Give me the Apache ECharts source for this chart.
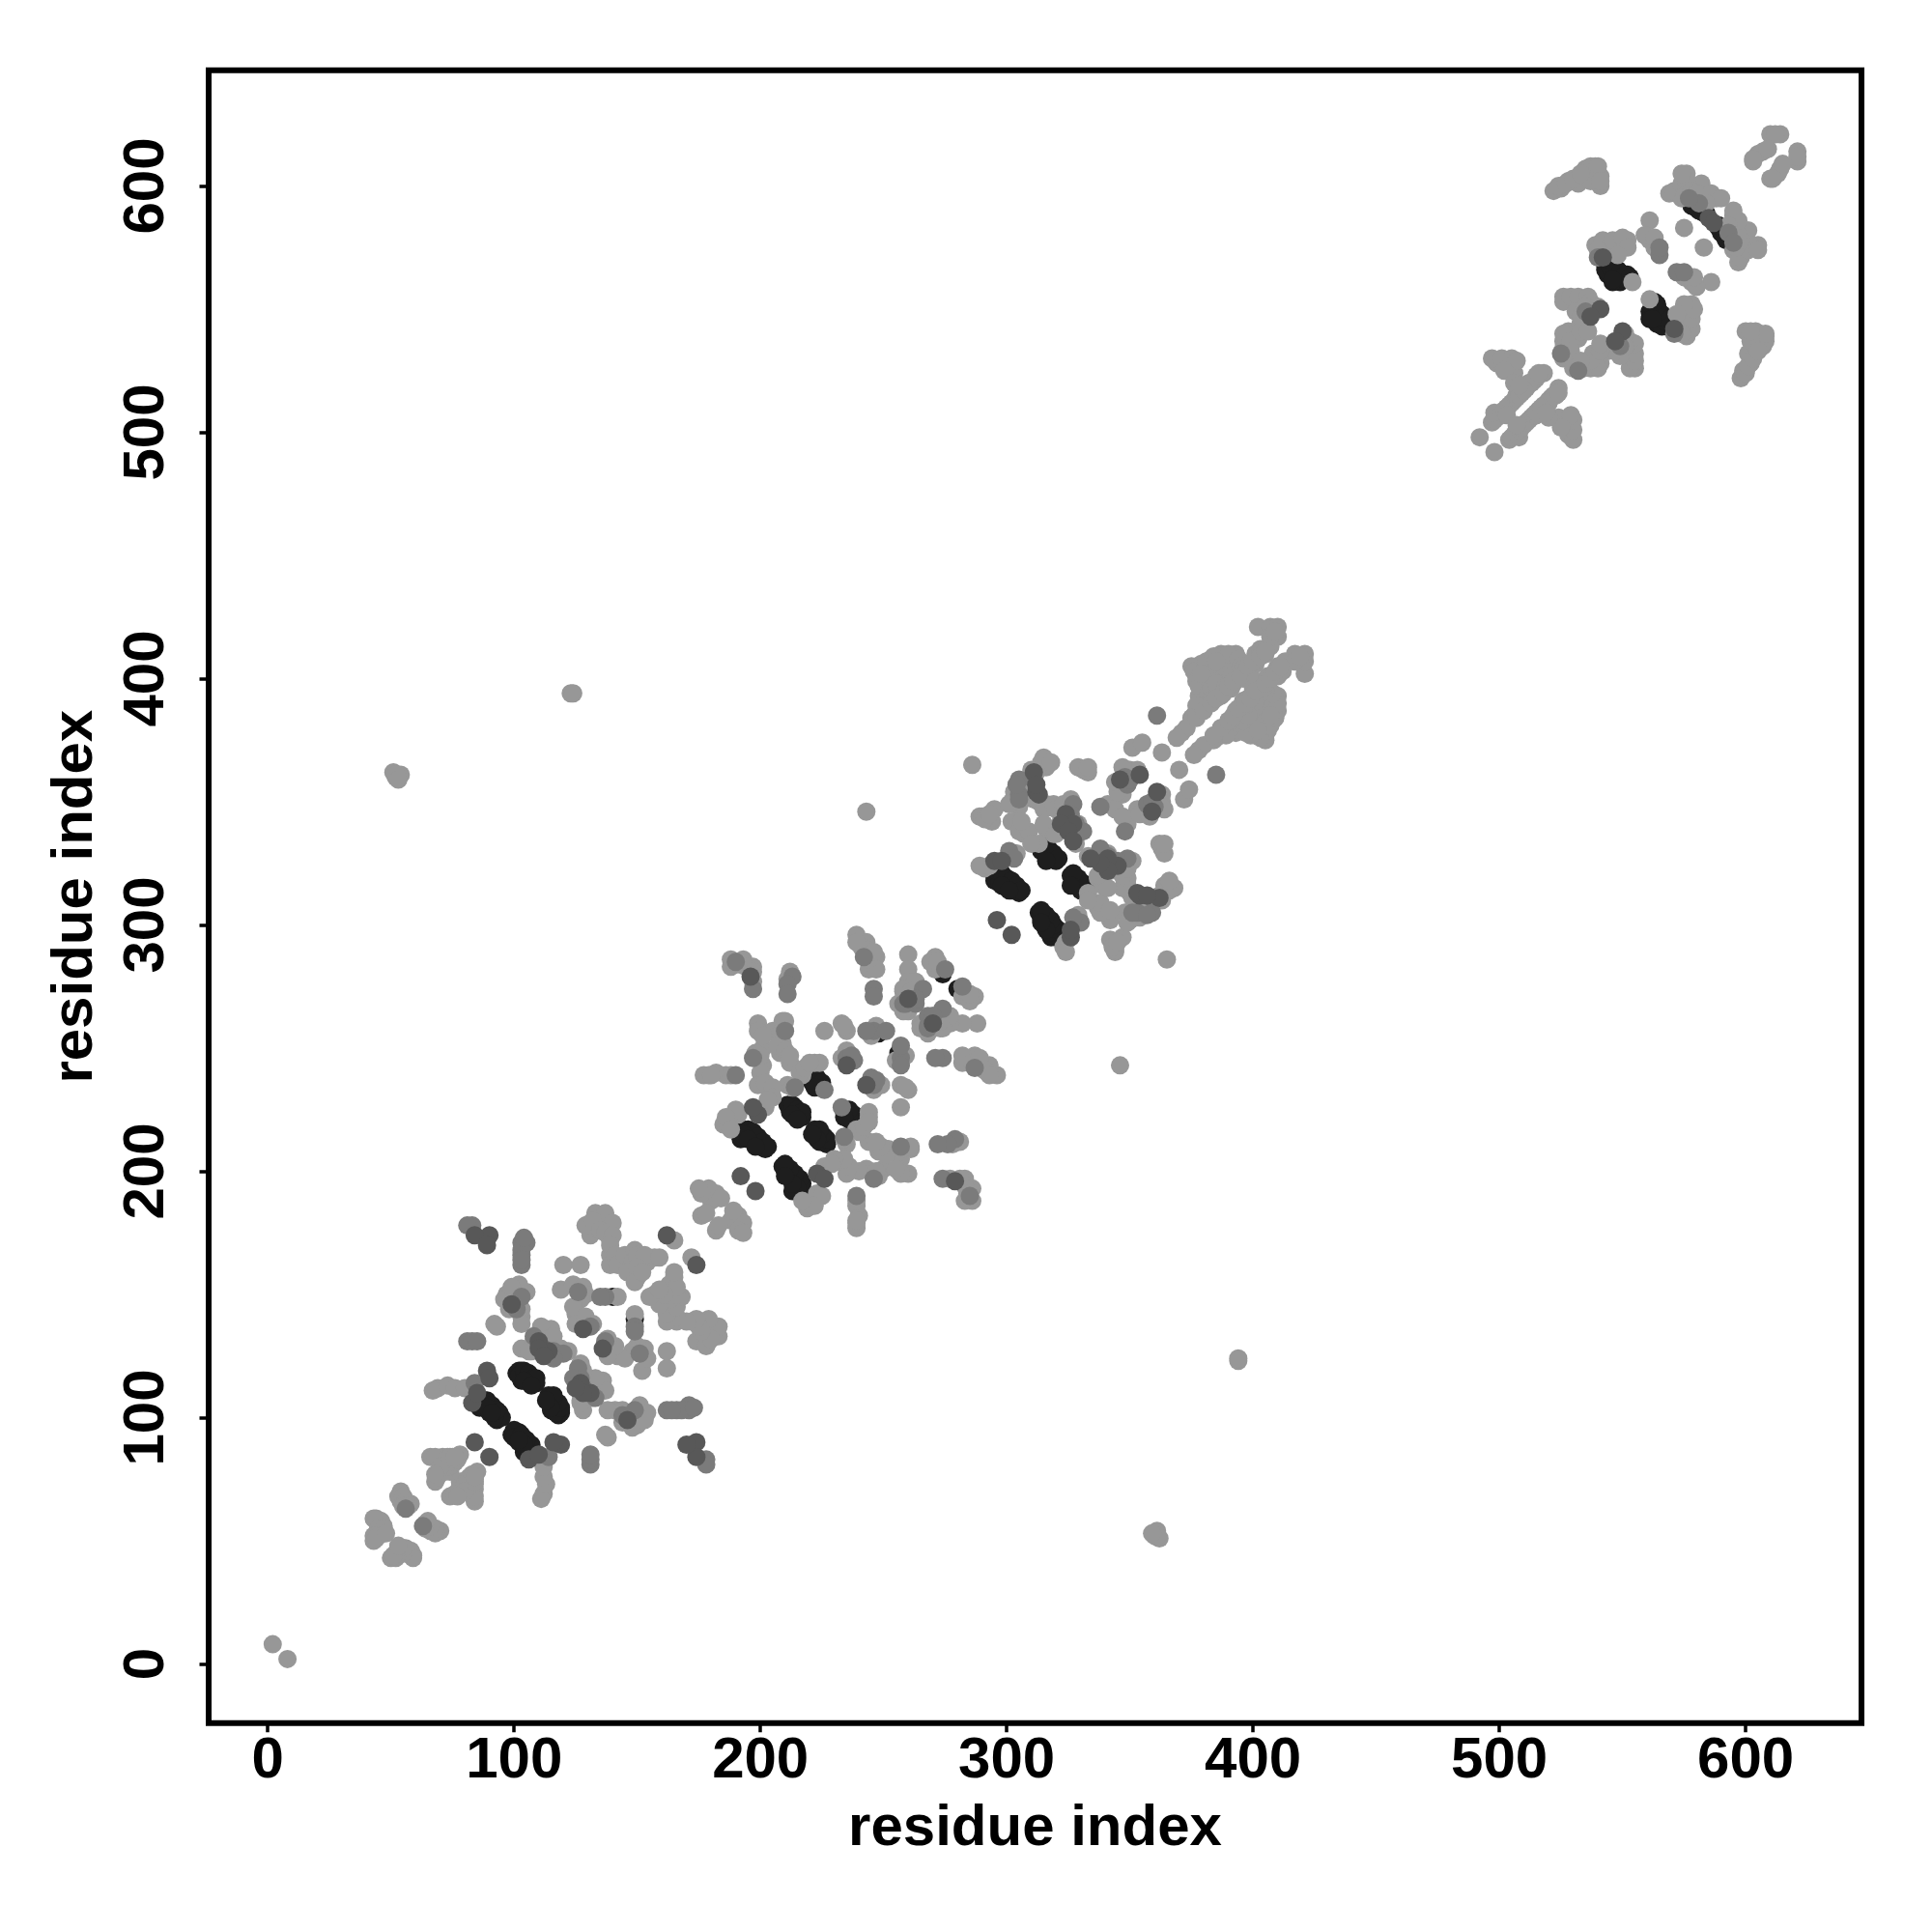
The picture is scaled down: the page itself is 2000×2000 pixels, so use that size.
<!DOCTYPE html>
<html><head><meta charset="utf-8">
<script src="https://cdn.jsdelivr.net/npm/echarts@6/dist/echarts.min.js"></script>
<style>html,body{margin:0;background:#fff}#c{width:2000px;height:2000px}</style></head>
<body><div id="c"></div>
<script>
const tickValues=[0,100,200,300,400,500,600];
const axisTitle='residue index';
// contact pairs (i<j), grouped by grey level; a contact appears at (i,j) and (j,i)
const darkestPairs=[[88,106],[90,104],[92,102],[94,102],[93,99],[86,104],[103,119],[101,118],[106,117],[108,115],[103,115],[193,217],[196,214],[199,212],[201,210],[192,213],[213,226],[211,227],[216,223],[220,238],[222,236],[224,234],[248,256],[274,280],[140,149],[295,320],[299,318],[302,316],[305,313],[295,318],[316,330],[320,327],[316,328],[544,564],[548,564],[552,564],[549,561],[546,561],[580,591],[583,589],
[87,107],[88,107],[89,106],[90,105],[91,104],[92,103],[93,102],[94,101],[95,100],[88,104],[90,102],[92,100],[102,119],[103,118],[104,117],[105,116],[106,116],[107,115],[109,114],[102,117],[105,118],[194,216],[195,215],[197,213],[198,212],[200,210],[202,209],[194,214],[197,215],[200,212],[193,214],[212,226],[213,225],[214,224],[215,223],[217,222],[212,224],[214,226],[219,240],[220,239],[221,238],[222,237],[223,236],[224,235],[225,234],[221,236],[296,320],[297,319],[298,319],[299,317],[300,317],[301,316],[303,315],[304,314],[297,317],[300,315],[296,322],[302,314],[314,332],[315,331],[317,329],[318,328],[319,327],[320,326],[314,330],[543,568],[544,566],[545,565],[547,563],[550,563],[551,562],[552,562],[548,566],[543,566],[578,592],[581,590],[582,591],[584,589],
[89,107],[91,105],[93,103],[89,104],[91,102],[104,119],[106,118],[108,116],[109,116],[104,115],[107,113],[195,217],[197,216],[199,214],[201,212],[203,210],[193,215],[195,213],[198,210],[213,227],[215,225],[217,224],[213,223],[215,221],[221,239],[223,238],[225,236],[222,234],[296,323],[298,321],[300,319],[302,318],[304,316],[306,314],[298,316],[301,314],[315,333],[317,331],[319,329],[321,327],[316,326],[545,567],[547,566],[549,565],[551,564],[553,563],[546,562]];
const lightPairs=[[2,8],[44,59],[45,57],[47,56],[43,50],[44,53],[46,54],[54,70],[54,66],[58,65],[66,84],[71,84],[78,85],[68,74],[72,81],[74,78],[70,78],[92,138],[93,137],[69,112],[67,111],[73,113],[76,112],[80,112],[103,128],[107,127],[111,134],[115,136],[112,129],[103,141],[102,151],[97,150],[120,162],[127,162],[119,152],[128,150],[125,142],[128,138],[126,140],[142,149],[139,172],[133,183],[131,179],[139,179],[131,174],[136,178],[139,166],[139,162],[142,165],[149,166],[149,161],[150,157],[157,165],[154,163],[165,172],[176,182],[182,191],[178,192],[180,188],[51,362],[52,360],[53,360],[54,361],[52,361],[53,359],[123,394],[124,394],[243,346],[185,219],[191,223],[202,226],[222,244],[217,239],[211,235],[200,236],[204,232],[201,243],[201,250],[199,260],[209,258],[209,252],[212,244],[208,248],[179,239],[182,240],[186,239],[193,286],[197,283],[239,296],[243,293],[247,287],[244,282],[247,282],[226,257],[233,260],[235,257],[245,255],[235,248],[260,288],[260,282],[260,277],[263,277],[258,273],[271,287],[271,282],[286,365],[289,344],[292,344],[295,347],[294,342],[314,366],[316,364],[305,348],[302,350],[313,350],[316,349],[305,340],[307,337],[316,339],[319,337],[303,329],[291,323],[341,349],[347,353],[350,363],[331,363],[333,362],[351,372],[355,374],[363,370],[371,378],[378,387],[376,385],[380,389],[378,393],[379,400],[377,401],[379,406],[383,408],[387,410],[393,410],[397,406],[399,401],[388,402],[387,396],[391,396],[401,406],[405,410],[402,421],[407,421],[410,421],[410,417],[407,413],[383,405],[388,408],[375,405],[380,396],[393,402],[391,408],[396,400],[387,401],[492,498],[499,506],[503,510],[506,513],[509,516],[514,521],[518,524],[502,527],[505,528],[499,528],[506,524],[526,555],[528,554],[533,554],[532,551],[526,537],[528,541],[533,544],[532,538],[522,598],[525,599],[528,602],[532,601],[535,607],[539,608],[541,600],[541,604],[540,576],[552,578],[546,575],[554,561],[561,586],[561,578],[569,597],[574,595],[576,605],[575,600],[579,600],[582,601],[583,595],[588,595],[575,583],[603,610],[607,614],[610,621],[614,621],
[44,58],[46,58],[43,59],[45,55],[47,55],[45,52],[43,52],[44,51],[48,53],[53,68],[55,68],[56,66],[55,64],[57,64],[68,84],[73,84],[75,84],[69,76],[72,78],[73,80],[75,81],[76,82],[77,83],[70,80],[68,77],[74,84],[76,84],[106,127],[108,132],[111,137],[114,132],[116,133],[119,128],[122,127],[98,144],[99,149],[102,148],[103,144],[105,151],[96,148],[102,154],[99,153],[103,138],[124,154],[128,153],[129,150],[127,148],[124,145],[125,138],[129,141],[132,138],[137,183],[140,179],[129,178],[132,180],[135,176],[137,175],[140,174],[139,170],[141,166],[142,162],[145,166],[149,168],[148,163],[146,159],[150,166],[153,166],[150,161],[159,165],[149,155],[152,159],[179,193],[176,191],[175,193],[184,189],[178,183],
[188,286],[188,283],[191,284],[194,283],[197,281],[197,277],[211,278],[212,281],[205,257],[207,255],[209,261],[210,261],[207,251],[210,249],[212,247],[199,257],[201,255],[198,248],[200,247],[200,240],[199,235],[202,236],[205,234],[205,230],[203,229],[213,234],[216,240],[218,242],[224,244],[220,244],[177,239],[180,239],[188,239],[241,291],[243,290],[244,286],[239,293],[246,289],[258,274],[261,273],[263,270],[256,268],[260,265],[258,265],[269,285],[272,285],[234,259],[235,249],[233,246],[244,257],[247,259],[190,225],[187,219],[186,222],[188,217],
[376,403],[377,399],[378,397],[380,403],[381,407],[382,400],[384,409],[385,403],[386,399],[389,404],[390,410],[391,401],[392,398],[394,408],[395,405],[396,404],[385,407],[379,402],[380,391],[382,394],[383,396],[385,398],[389,397],[387,393],[383,391],[379,388],[377,389],[375,384],[373,380],[369,376],[401,410],[403,412],[407,417],[409,419],
[377,384],[380,387],[383,390],[385,392],[388,394],[390,397],[392,399],[395,401],[398,405],[400,407],[403,409],[405,411],
[312,362],[310,363],[309,358],[303,354],[301,349],[311,351],[315,347],[319,349],[320,347],[315,368],[318,366],[302,342],[305,338],[309,338],[306,342],[315,341],[320,337],[323,349],[326,351],[322,342],[329,341],[328,333],[344,347],[345,354],[344,358],[351,362],[353,363],[347,364],[329,364],[333,364],[290,344],[291,343],[293,345],[304,329],[293,324],[289,324],[313,333],[310,333],
[497,504],[498,505],[498,508],[501,508],[502,509],[504,511],[505,512],[507,514],[507,515],[508,515],[511,518],[511,519],[513,520],[515,522],[515,523],[512,520],[516,524],[510,517],[503,507],[497,530],[501,530],[505,530],[507,529],[502,525],[506,520],[508,519],[526,553],[529,555],[532,555],[536,555],[537,553],[531,549],[533,547],[535,551],[540,551],[526,540],[526,534],[529,537],[529,533],[526,530],[533,541],[536,541],[524,600],[527,601],[530,603],[535,604],[537,608],[540,608],[537,602],[533,605],[541,602],[539,576],[542,578],[546,578],[550,579],[552,575],[540,574],[548,572],[563,575],[571,598],[574,601],[576,602],[575,596],[578,598],[580,597],[586,597],[590,595],[584,593],[574,605],[612,621],[605,613],[609,615],[603,611],[559,580],[563,579]];
const midPairs=[[84,114],[81,131],[83,131],[85,131],[56,63],[116,127],[120,126],[103,171],[103,166],[103,162],[105,171],[83,178],[81,178],[101,144],[103,149],[126,151],[131,137],[137,149],[190,239],[197,246],[210,257],[214,234],[226,233],[197,274],[213,279],[211,276],[211,272],[242,287],[246,274],[246,271],[246,257],[251,257],[238,245],[266,274],[259,268],[263,268],[275,282],[190,285],[305,359],[305,353],[301,330],[327,349],[329,338],[338,348],[349,357],[361,385],[525,532],[535,549],[540,571],[565,572],[565,575],
[103,168],[103,164],[104,173],[110,130],[112,128],[108,133],[135,149],[235,246],[237,247],[243,257],[258,268],[263,270],[305,351],[304,357],[311,359],[348,360],[350,359],[326,345],[328,341],[581,593],[577,595],[331,338],[116,124],[303,327]];
const darkPairs=[[84,90],[89,119],[90,116],[83,106],[85,110],[110,131],[114,127],[90,174],[84,174],[89,170],[99,146],[128,136],[162,174],[199,223],[197,226],[196,279],[235,243],[192,198],[296,302],[295,326],[311,362],[312,354],[324,345],[327,341],[346,359],[354,361],[542,571],[541,550],[537,547],[260,270],[313,353],[312,357],[298,326],[322,341],[325,338],[327,334],[110,128],[112,125],[585,587]];

const both=p=>p.concat(p.map(([i,j])=>[j,i]));
const font={fontFamily:'Liberation Sans',fontWeight:'bold',fontSize:60,color:'#000'};
const layer=(pairs,color)=>({type:'scatter',data:both(pairs),symbolSize:19,itemStyle:{color,opacity:1},silent:true,animation:false});
const axis=(extra)=>Object.assign({type:'value',min:-24,max:647,splitLine:{show:false},axisLine:{show:false,onZero:false},
  axisTick:{show:true,length:9.5,customValues:tickValues,lineStyle:{color:'#000',width:3.5}},
  name:axisTitle,nameLocation:'middle',nameTextStyle:font},extra);
echarts.init(document.getElementById('c'),null,{renderer:'canvas'}).setOption({
  animation:false,backgroundColor:'#fff',
  grid:{left:216,top:72.7,width:1711,height:1711,show:true,borderColor:'#000',borderWidth:6,backgroundColor:'transparent'},
  xAxis:axis({nameGap:80,axisLabel:Object.assign({customValues:tickValues,margin:10},font)}),
  yAxis:axis({nameGap:108,nameRotate:90,axisLabel:Object.assign({customValues:tickValues,rotate:90,margin:34},font)}),
  series:[layer(darkestPairs,'#1e1e1e'),layer(lightPairs,'#979797'),layer(midPairs,'#7b7b7b'),layer(darkPairs,'#585858')]
});
</script></body></html>
